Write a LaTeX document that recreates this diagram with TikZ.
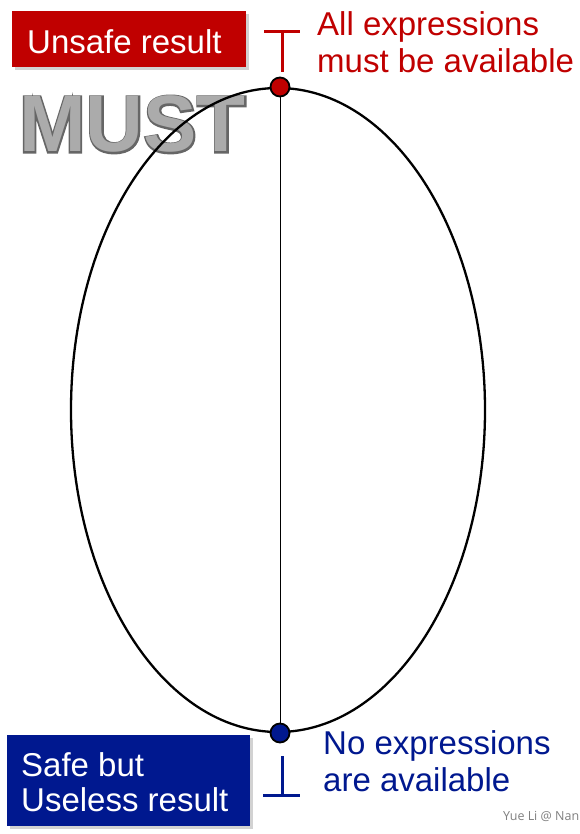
\documentclass[tikz,border=0pt]{standalone}
\usepackage{fontspec}
\setmainfont{Liberation Sans}
\newfontfamily\footfont{Open Sans}
\newfontfamily\mustoutline[FakeBold=4]{Liberation Sans Bold}
\newfontfamily\mustfill{Liberation Sans Bold}
\usetikzlibrary{shadows}
\definecolor{myred}{HTML}{C00000}
\definecolor{myblue}{HTML}{00188F}
\definecolor{mustlight}{HTML}{ABABAB}
\definecolor{mustedge}{HTML}{666666}
\tikzset{
  labelbox/.style={anchor=north west, inner sep=0pt, text=white,
    drop shadow={shadow xshift=3pt, shadow yshift=-3pt, opacity=0.35}},
  bigtext/.style={font=\fontsize{33}{37}\selectfont, anchor=base west, inner sep=0pt},
  dot/.style={circle, draw=black, line width=1.8pt, minimum size=19pt, inner sep=0pt},
  mustsize/.style={anchor=base west, inner sep=0pt}
}
\begin{document}
\begin{tikzpicture}[x=1pt,y=-1pt]
\useasboundingbox (0,0) rectangle (580,834);
\fill[white] (0,0) rectangle (580,834);

% MUST label (outlined)
\node[mustsize, text=mustedge, font=\mustoutline\fontsize{80}{80}\selectfont] (mustedge) at (19,152) {MUST};
\node[mustsize, text=mustlight, font=\mustfill\fontsize{80}{80}\selectfont] (must) at (19,152) {MUST};

% lattice ellipse
\draw[line width=2.3pt] (278,410) ellipse [x radius=207pt, y radius=322pt];

% top and bottom elements
\node[dot, fill=myred] (top) at (280,87) {};
\node[dot, fill=myblue] (bot) at (280,733) {};
\draw[line width=1pt] (top) -- (bot);

% top symbol
\coordinate (tl) at (264,32);
\coordinate (tr) at (300,32);
\coordinate (tm) at (282,32);
\coordinate (tb) at (282,72);
\draw[myred, line width=3pt] (tl) -- (tr) (tm) -- (tb);

% bottom symbol
\coordinate (bl) at (263,795);
\coordinate (br) at (300,795);
\coordinate (bm) at (282,795);
\coordinate (bt) at (282,756);
\draw[myblue, line width=3pt] (bl) -- (br) (bm) -- (bt);

% texts
\node[bigtext, text=myred] (all1) at (317,36) {All expressions};
\node[bigtext, text=myred] (all2) at (317,73) {must be available};
\node[bigtext, text=myblue] (no1) at (323,754) {No expressions};
\node[bigtext, text=myblue] (no2) at (323,791) {are available};

% boxes
\node[labelbox, fill=myred, minimum width=234pt, minimum height=56pt] (unsafe) at (12,11) {};
\node[bigtext, text=white] (unsafet) at (27,54) {Unsafe result};

\node[labelbox, fill=myblue, minimum width=243pt, minimum height=91pt] (safe) at (7,735) {};
\node[bigtext, text=white] (safe1) at (21,776) {Safe but};
\node[bigtext, text=white] (safe2) at (21,811) {Useless result};

% footer
\node[anchor=base west, inner sep=0pt, text=gray, font=\footfont\fontsize{12.5}{12.5}\selectfont] (foot) at (503,820) {Yue Li @ Nan};
\end{tikzpicture}
\end{document}
